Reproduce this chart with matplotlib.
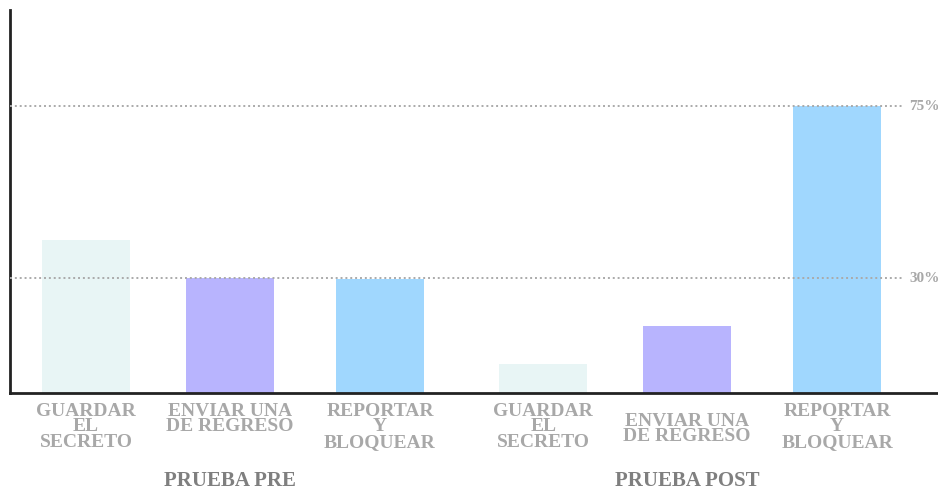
import matplotlib
matplotlib.use("Agg")
import matplotlib.pyplot as plt

# ---- data ----
groups = ["Prueba Pre", "Prueba Post"]
categories = ["Guardar\nel\nsecreto", "Enviar una\nde regreso", "reportar\ny\nbloquear"]
pre_values = [40, 30, 29.8]
post_values = [7.5, 17.5, 75]
ref_values = [30, 75]
ref_labels = ["30%", "75%"]

colors = ["#e8f5f5", "#b8b4fe", "#a0d7fe"]
label_color = "#a8a8a8"
group_color = "#7f7f7f"
font = ["Liberation Serif", "DejaVu Serif"]

# layout (bar slots)
slots = [0, 0.98, 2.0, 3.11, 4.09, 5.11]
width = 0.6

fig = plt.figure(figsize=(9.38, 4.91), dpi=100)
ax = fig.add_axes([10/938, (491-393)/491, 928/938, 383/491])

values = pre_values + post_values
bar_colors = colors * 2
ax.bar(slots, values, width=width, color=bar_colors, zorder=2)

ax.set_xlim(-0.517, 5.796)
ax.set_ylim(0, 100.2)

# reference lines
for rv, rl in zip(ref_values, ref_labels):
    ax.plot([-0.517, 5.56], [rv, rv], linestyle=(0, (1, 1.5)), color="#aaaaaa",
            linewidth=1.4, zorder=3, clip_on=False)
    ax.text(5.6, rv, rl, ha="left", va="center", color=label_color,
            fontsize=11, fontweight="bold", family=font, clip_on=False)

for s in ["top", "right"]:
    ax.spines[s].set_visible(False)
for s in ["left", "bottom"]:
    ax.spines[s].set_linewidth(2)
    ax.spines[s].set_color("#222222")
ax.set_xticks([])
ax.set_yticks([])

# category labels
trans = ax.get_xaxis_transform()
for idx, x in enumerate(slots):
    cat = categories[idx % 3]
    g = idx // 3
    txt = cat.upper()
    if g == 1 and idx % 3 == 1:
        ax.annotate(txt, xy=(x, 0), xycoords=trans, xytext=(0, -36),
                    textcoords="offset pixels", ha="center", va="center",
                    color=label_color, fontsize=14, fontweight="bold",
                    family=font, linespacing=0.88)
    else:
        ax.annotate(txt, xy=(x, 0), xycoords=trans, xytext=(0, -10),
                    textcoords="offset pixels", ha="center", va="top",
                    color=label_color, fontsize=14, fontweight="bold",
                    family=font, linespacing=0.88)

for g, name in enumerate(groups):
    xc = slots[g * 3 + 1]
    ax.annotate(name.upper(), xy=(xc, 0), xycoords=trans, xytext=(0, -78),
                textcoords="offset pixels", ha="center", va="top",
                color=group_color, fontsize=15, fontweight="bold", family=font)

fig.savefig("out.png", dpi=100)
